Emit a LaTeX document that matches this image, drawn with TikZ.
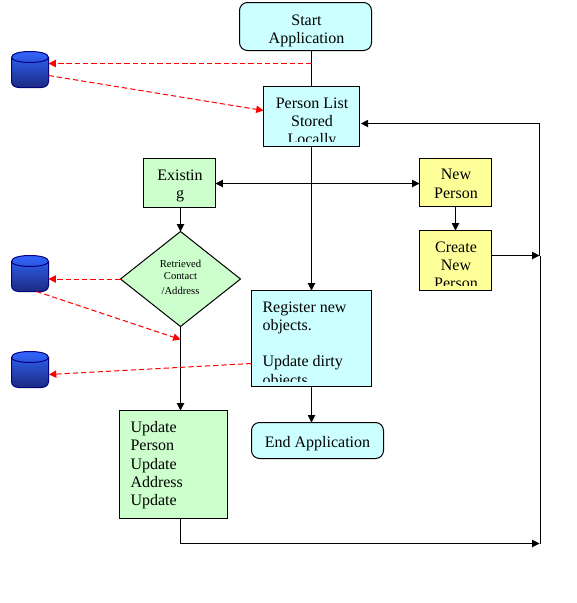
\documentclass[tikz,border=0pt]{standalone}
\usepackage{fontspec}
\setmainfont{Liberation Serif}
\usetikzlibrary{arrows.meta,shapes.geometric}
\definecolor{pcyan}{HTML}{CCFFFF}
\definecolor{pgreen}{HTML}{CCFFCC}
\definecolor{pyellow}{HTML}{FFFF99}
\definecolor{dbtop}{HTML}{3366FF}
\definecolor{dbbot}{HTML}{1A2A80}
\definecolor{dbline}{HTML}{000080}
\tikzset{
  flow/.style={draw=black,line width=0.75pt,inner sep=0pt,outer sep=0pt},
  cyanbox/.style={flow,fill=pcyan},
  greenbox/.style={flow,fill=pgreen},
  yellowbox/.style={flow,fill=pyellow},
  roundbox/.style={flow,fill=pcyan,rounded corners=6pt},
  link/.style={line width=0.75pt,black},
  arrowlink/.style={link,-{Triangle[length=5.5pt,width=5.5pt]}},
  bothlink/.style={link,{Triangle[length=5.5pt,width=5.5pt]}-{Triangle[length=5.5pt,width=5.5pt]}},
  datalink/.style={line width=0.75pt,red,dash pattern=on 4pt off 2.2pt,-{Triangle[length=5.5pt,width=5.5pt]}},
  label/.style={inner sep=0pt,outer sep=0pt,font=\fontsize{12}{13.7}\selectfont,anchor=north},
  labelc/.style={label,align=center},
  labell/.style={label,align=left,anchor=north west},
  smalltext/.style={inner sep=0pt,font=\fontsize{8}{9}\selectfont},
}
\newcommand{\pbox}[6]{\node[#1,minimum width={(#5-#3)*0.75pt},minimum height={(#6-#4)*0.75pt}] (#2) at ({(#3+#5)/2},{(#4+#6)/2}) {};}
\newcommand{\db}[3]{%
  \begin{scope}[yshift={(#3-51)*-0.75pt}]
  \path[top color=dbtop,bottom color=dbbot,draw=dbline,line width=0.75pt]
    (#2-18.5,57) -- (#2-18.5,81) .. controls (#2-18.5,85) and (#2-15,87) .. (#2-11,87) -- (#2+11,87) .. controls (#2+15,87) and (#2+18.5,85) .. (#2+18.5,81) -- (#2+18.5,57) .. controls (#2+18.5,53) and (#2+10,51) .. (#2,51) .. controls (#2-10,51) and (#2-18.5,53) .. (#2-18.5,57) -- cycle;
  \draw[dbline,line width=0.75pt] (#2-18.5,57) .. controls (#2-18.5,60) and (#2-10,62) .. (#2,62) .. controls (#2+10,62) and (#2+18.5,60) .. (#2+18.5,57);
  \node[minimum width=27.75pt,minimum height=27pt,inner sep=0pt,outer sep=0pt] (#1) at (#2,69) {};
  \end{scope}}
\begin{document}
\begin{tikzpicture}[x=0.75pt,y=-0.75pt]
\useasboundingbox (0,0) rectangle (576,603);
\begin{scope}[shift={(0,0)},xshift=0.375pt,yshift=-0.375pt]
% boxes
\pbox{roundbox}{start}{239}{2}{371}{50}
\pbox{cyanbox}{pl}{263}{86}{359}{146}
\pbox{greenbox}{exist}{143}{158}{215}{207}
\pbox{yellowbox}{newp}{419}{158}{491}{206}
\pbox{yellowbox}{create}{419}{230}{491}{290}
\pbox{cyanbox}{reg}{251}{290}{371}{386}
\pbox{roundbox}{endapp}{251}{422}{383}{458}
\pbox{greenbox}{upd}{119}{410}{227}{518}
\node[flow,diamond,aspect=1.26,fill=pgreen,minimum width=90pt,minimum height=71.25pt] (dia) at (180,278.5) {};
% databases
\db{dba}{29.5}{51}
\db{dbb}{29.5}{255}
\db{dbc}{29.5}{351}
% texts
\node[labelc] (tstart) at (306,14) {Start\\Application};
\begin{scope}\clip (264,87) rectangle (358,141);
\node[labelc] (tpl) at (311.5,97) {Person List\\Stored\\Locally};
\end{scope}
\node[labelc] (texist) at (179.5,169) {Existin\\g};
\node[labelc] (tnew) at (455.5,169) {New\\Person};
\begin{scope}\clip (420,231) rectangle (490,285);
\node[labelc] (tcreate) at (455.5,241) {Create\\New\\Person};
\end{scope}
\begin{scope}\clip (252,291) rectangle (370,381);
\node[labell] (treg) at (262,301) {Register new\\objects.\\[13.7pt]Update dirty\\objects};
\end{scope}
\node[label] (tend) at (317,436) {End Application};
\node[labell] (tupd) at (130,421) {Update\\Person\\Update\\Address\\Update};
\node[smalltext] (tdia1) at (180,263.5) {Retrieved};
\node[smalltext] (tdia2) at (180,275.5) {Contact};
\node[smalltext] (tdia3) at (180,290.5) {/Address};
% helper coordinates
\coordinate (tee) at (311,63);
\coordinate (plin) at (263,110);
\coordinate (dbaout) at (48,75);
\coordinate (dbbout) at (36,291);
\coordinate (hit) at (180,339);
\coordinate (regout) at (251,363);
\coordinate (dbcin) at (48.5,374);
\coordinate (midy) at (311,183);
\coordinate (rtop) at (539,123);
\coordinate (rmid) at (539,255);
\coordinate (rmid2) at (540,255);
\coordinate (rlow) at (540,543);
\coordinate (rlowend) at (539,543);
% black connectors
\draw[link] (pl.north |- start.south) -- (pl.north);
\draw[arrowlink] (pl.south) -- (pl.south |- reg.north);
\draw[bothlink] (exist.east |- midy) -- (newp.west |- midy);
\draw[arrowlink] (dia.north |- exist.south) -- (dia.north);
\draw[arrowlink] (dia.south) -- (dia.south |- upd.north);
\draw[arrowlink] (newp.south) -- (create.north);
\draw[arrowlink] (reg.south -| pl.south) -- (endapp.north -| pl.south);
\draw[arrowlink] (create.east |- rmid) -- (rmid);
\draw[link] (rmid) -- (rtop);
\draw[arrowlink] (rtop) -- ([xshift=1pt]pl.east |- rtop);
\draw[arrowlink] (dia.south |- upd.south) -- (dia.south |- rlowend) -- (rlowend);
\draw[link] (rlow) -- (rmid2);
% data connectors
\draw[datalink] (tee) -- (dba.east |- tee);
\draw[datalink] (dbaout) -- (plin);
\draw[datalink] (dia.west) -- (dbb.east |- dia.west);
\draw[datalink] (dbbout) -- (hit);
\draw[datalink] (regout) -- (dbcin);
\end{scope}
\end{tikzpicture}
\end{document}
